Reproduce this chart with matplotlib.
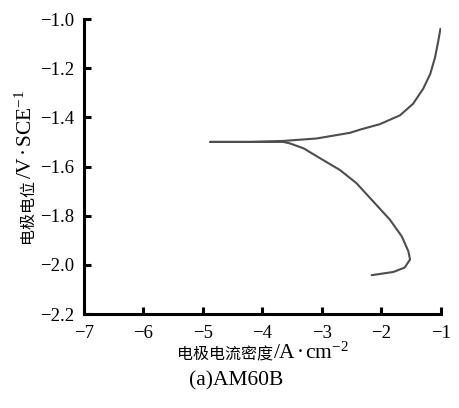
import matplotlib
matplotlib.use("Agg")
import matplotlib.pyplot as plt

# Data (log current density, potential V vs SCE)
anodic_x = [-4.88, -4.21, -3.65, -3.09, -2.53, -2.36, -2.03, -1.69, -1.47, -1.30, -1.18, -1.10, -1.045, -1.01]
anodic_y = [-1.500, -1.500, -1.496, -1.486, -1.463, -1.450, -1.428, -1.392, -1.345, -1.284, -1.223, -1.156, -1.089, -1.040]
cathodic_x = [-4.88, -4.21, -3.65, -3.54, -3.31, -2.98, -2.70, -2.42, -2.14, -1.86, -1.66, -1.55, -1.52, -1.61, -1.80, -2.165]
cathodic_y = [-1.500, -1.500, -1.500, -1.506, -1.526, -1.574, -1.614, -1.668, -1.742, -1.816, -1.884, -1.944, -1.978, -2.011, -2.029, -2.042]

xticks = [-7, -6, -5, -4, -3, -2, -1]
yticks = [-2.2, -2.0, -1.8, -1.6, -1.4, -1.2, -1.0]

plt.rcParams['mathtext.fontset'] = 'custom'
plt.rcParams['mathtext.rm'] = 'Liberation Serif'
plt.rcParams['mathtext.it'] = 'Liberation Serif:italic'
plt.rcParams['mathtext.bf'] = 'Liberation Serif:bold'

cjk = ['Noto Sans CJK SC', 'DejaVu Sans']
serif = ['Liberation Serif', 'DejaVu Serif']

W, H = 459, 408
fig = plt.figure(figsize=(W / 100, H / 100), dpi=100)
ax = fig.add_axes([84 / W, 1 - 314 / H, (441 - 84) / W, (314 - 19) / H])

line_color = '#4d4d4d'
ax.plot(anodic_x, anodic_y, color=line_color, lw=1.5, solid_joinstyle='round', solid_capstyle='round')
ax.plot(cathodic_x, cathodic_y, color=line_color, lw=1.5, solid_joinstyle='round', solid_capstyle='round')

ax.set_xlim(-7, -1)
ax.set_ylim(-2.2, -1.0)
ax.set_xticks(xticks)
ax.set_yticks(yticks)
ax.set_xticklabels([f"\u2212{abs(v)}" for v in xticks], fontfamily=serif, fontsize=13.5)
ax.set_yticklabels([f"\u2212{abs(v):.1f}" for v in yticks], fontfamily=serif, fontsize=13.5)

for s in ['top', 'right']:
    ax.spines[s].set_visible(False)
for s in ['left', 'bottom']:
    ax.spines[s].set_linewidth(2.2)
    ax.spines[s].set_color('black')
ax.tick_params(direction='in', length=5, width=2.2, color='black')
ax.tick_params(axis='x', pad=8)
ax.tick_params(axis='y', pad=7)

dot = "\u200a·\u200a"

# x label: CJK part + Latin part joined at a point
jx, by = 273 / W, 1 - 359 / H
fig.text(jx, by, "电极电流密度", ha='right', va='baseline', fontfamily=cjk, fontsize=11.5)
fig.text(jx, by, "/A" + dot + r"cm$^{-2}$", ha='left', va='baseline', fontfamily=serif, fontsize=15.5)

# y label (rotated)
bx, jy = 32 / W, 1 - 179 / H
fig.text(bx, jy, "电极电位", ha='right', va='baseline', rotation=90, rotation_mode='anchor',
         fontfamily=cjk, fontsize=11.5)
fig.text(bx, jy, "/V" + dot + r"SCE$^{-1}$", ha='left', va='baseline', rotation=90, rotation_mode='anchor',
         fontfamily=serif, fontsize=15.5)

fig.text(236 / W, 1 - 385 / H, "(a)AM60B", ha='center', va='baseline', fontfamily=serif, fontsize=15.5)

fig.savefig("out.png", dpi=100)
